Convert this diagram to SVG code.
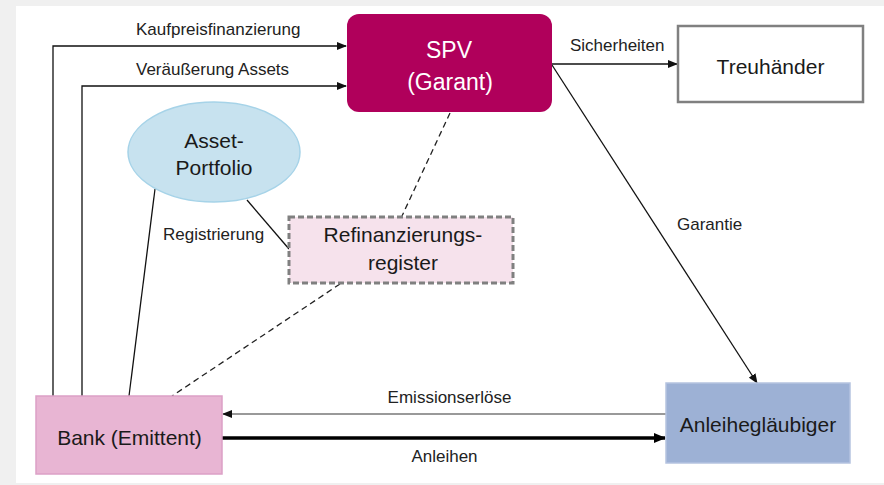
<svg xmlns="http://www.w3.org/2000/svg" width="884" height="485" viewBox="0 0 884 485">
<style>
.lbl{font-family:"Liberation Sans",Arial,sans-serif;font-size:17px;fill:#222;}
.nt{font-family:"Liberation Sans",Arial,sans-serif;font-size:21px;fill:#1a1a1a;text-anchor:middle;}
.spv{font-family:"Liberation Sans",Arial,sans-serif;font-size:23px;fill:#ffffff;text-anchor:middle;}
.ln{fill:none;stroke:#111;stroke-width:1.3;}
.dash{fill:none;stroke:#222;stroke-width:1.3;stroke-dasharray:6 4;}
</style>
<defs>
<marker id="ah" markerWidth="10" markerHeight="8" refX="9" refY="4" orient="auto" markerUnits="userSpaceOnUse">
<path d="M0,0 L10,4 L0,8 Z" fill="#111"/>
</marker>
<marker id="ahb" markerWidth="12" markerHeight="10" refX="11" refY="5" orient="auto" markerUnits="userSpaceOnUse">
<path d="M0,0 L12,5 L0,10 Z" fill="#000"/>
</marker>
</defs>
<rect x="0" y="0" width="884" height="485" fill="#f0f0f0"/>
<rect x="16" y="6" width="868" height="477" fill="#ffffff"/>

<g id="connectors">
<polyline class="ln" points="53,396 53,46 346,46" marker-end="url(#ah)"/>
<polyline class="ln" points="82,396 82,86 346,86" marker-end="url(#ah)"/>
<line class="ln" x1="155" y1="189" x2="129" y2="396"/>
<line class="ln" x1="247" y1="200" x2="289" y2="249"/>
<line class="dash" x1="450" y1="113" x2="402" y2="216"/>
<line class="dash" x1="340" y1="284" x2="172" y2="396"/>
<line class="ln" x1="552" y1="64" x2="677" y2="64" marker-end="url(#ah)"/>
<line class="ln" x1="552" y1="65" x2="757" y2="383" marker-end="url(#ah)"/>
<line x1="666" y1="414" x2="223" y2="414" stroke="#999" stroke-width="2" marker-end="url(#ah)"/>
<line x1="222" y1="438" x2="665" y2="438" stroke="#000" stroke-width="3.5" marker-end="url(#ahb)"/>
<text class="lbl" x="136" y="35">Kaufpreisfinanzierung</text>
<text class="lbl" x="136" y="75">Veräußerung Assets</text>
<text class="lbl" x="570" y="51">Sicherheiten</text>
<text class="lbl" x="677" y="230">Garantie</text>
<text class="lbl" x="163" y="240">Registrierung</text>
<text class="lbl" x="449.5" y="403" text-anchor="middle">Emissionserlöse</text>
<text class="lbl" x="444.5" y="462" text-anchor="middle">Anleihen</text>
</g>

<g id="spv">
<rect x="347" y="14" width="205" height="98" rx="12" fill="#b0005b"/>
<text class="spv" x="449" y="58">SPV</text>
<text class="spv" x="450" y="90">(Garant)</text>
</g>

<g id="treuhaender">
<rect x="678" y="26" width="185" height="76" fill="#ffffff" stroke="#808080" stroke-width="2.5"/>
<text class="nt" x="770.5" y="74">Treuhänder</text>
</g>

<g id="asset-portfolio">
<ellipse cx="214" cy="152" rx="86" ry="50" fill="#c7e2ef" stroke="#a6d3e8" stroke-width="1.5"/>
<text class="nt" x="214" y="148">Asset-</text>
<text class="nt" x="214" y="175">Portfolio</text>
</g>

<g id="refinanzierungsregister">
<rect x="289" y="217" width="224" height="66" fill="#f6e2ec" stroke="#808080" stroke-width="3" stroke-dasharray="6 3"/>
<text class="nt" x="403" y="242">Refinanzierungs-</text>
<text class="nt" x="403" y="270">register</text>
</g>

<g id="bank">
<rect x="36" y="396" width="186" height="78" fill="#e8b5d3" stroke="#dca0c6" stroke-width="1.5"/>
<text class="nt" x="129.5" y="445">Bank (Emittent)</text>
</g>

<g id="anleiheglaeubiger">
<rect x="666" y="383" width="184" height="80" fill="#9db1d5" stroke="#b5c3e0" stroke-width="1.5"/>
<text class="nt" x="758" y="432">Anleihegläubiger</text>
</g>
</svg>
